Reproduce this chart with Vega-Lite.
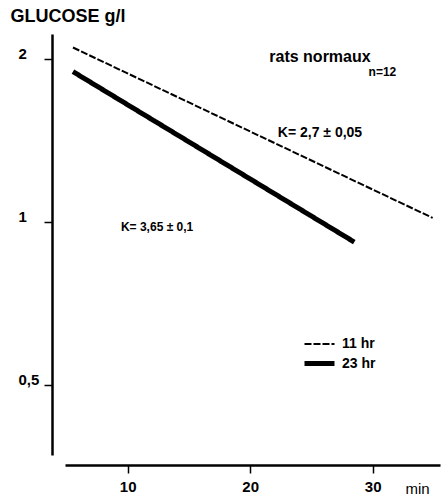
{
  "$schema": "https://vega.github.io/schema/vega-lite/v6.json",
  "width": 375,
  "height": 421,
  "autosize": "none",
  "padding": {"left": 65, "top": 34, "right": 2, "bottom": 46},
  "background": "white",
  "config": {
    "view": {"stroke": null},
    "font": "Liberation Sans",
    "legend": {
      "orient": "none",
      "legendX": 242,
      "legendY": 299,
      "padding": 0,
      "symbolType": "M-1.5,0H1.5",
      "symbolSize": 400,
      "symbolStrokeColor": "black",
      "labelFontSize": 14,
      "labelFontWeight": "bold",
      "labelColor": "black",
      "labelOffset": 10,
      "rowPadding": 0,
      "title": null
    }
  },
  "encoding": {
    "x": {
      "field": "t",
      "type": "quantitative",
      "scale": {"domain": [4.88, 35.5], "nice": false, "zero": false},
      "axis": {
        "values": [10, 20, 30],
        "offset": 10,
        "grid": false,
        "domainColor": "black",
        "domainWidth": 2.5,
        "tickColor": "black",
        "tickWidth": 1.5,
        "tickSize": 8,
        "labelFontSize": 15,
        "labelFontWeight": "bold",
        "labelColor": "black",
        "labelPadding": 6,
        "title": "min",
        "titleFontSize": 15,
        "titleFontWeight": "normal",
        "titleColor": "black",
        "titleAlign": "left",
        "titleBaseline": "alphabetic",
        "titleX": 340,
        "titleY": 28
      }
    },
    "y": {
      "field": "g",
      "type": "quantitative",
      "scale": {"type": "log", "domain": [0.371, 2.22], "nice": false, "zero": false},
      "axis": {
        "values": [0.5, 1, 2],
        "format": "~g",
        "labelExpr": "replace(datum.label, '.', ',')",
        "offset": 13,
        "grid": false,
        "domainColor": "black",
        "domainWidth": 2.5,
        "tickColor": "black",
        "tickWidth": 1.5,
        "tickSize": 8,
        "labelFontSize": 15,
        "labelFontWeight": "bold",
        "labelColor": "black",
        "labelAlign": "left",
        "labelBaseline": "alphabetic",
        "labelPadding": 26,
        "title": "GLUCOSE g/l",
        "titleFontSize": 18,
        "titleFontWeight": "bold",
        "titleColor": "black",
        "titleAngle": 0,
        "titleAlign": "left",
        "titleBaseline": "top",
        "titleX": -42,
        "titleY": -27
      }
    }
  },
  "layer": [
    {
      "data": {
        "values": [
          {"series": "11 hr", "t": 5.53, "g": 2.096},
          {"series": "11 hr", "t": 34.9, "g": 1.016},
          {"series": "23 hr", "t": 5.53, "g": 1.892},
          {"series": "23 hr", "t": 28.5, "g": 0.917}
        ]
      },
      "mark": {"type": "line", "color": "black", "strokeCap": "butt"},
      "encoding": {
        "detail": {"field": "series"},
        "strokeDash": {
          "field": "series",
          "type": "nominal",
          "scale": {"domain": ["11 hr", "23 hr"], "range": [[7, 2], [1, 0]]},
          "legend": {"title": null}
        },
        "strokeWidth": {
          "field": "series",
          "type": "nominal",
          "scale": {"domain": ["11 hr", "23 hr"], "range": [2, 5]},
          "legend": {"title": null}
        }
      }
    },
    {
      "data": {"values": [{"t": 25.7, "g": 2.01, "label": "rats normaux"}]},
      "mark": {"type": "text", "fontSize": 16, "fontWeight": "bold", "color": "black", "align": "center", "baseline": "middle"},
      "encoding": {"text": {"field": "label"}}
    },
    {
      "data": {"values": [{"t": 30.8, "g": 1.89, "label": "n=12"}]},
      "mark": {"type": "text", "fontSize": 12, "fontWeight": "bold", "color": "black", "align": "center", "baseline": "middle"},
      "encoding": {"text": {"field": "label"}}
    },
    {
      "data": {"values": [{"t": 25.7, "g": 1.458, "label": "K= 2,7 ± 0,05"}]},
      "mark": {"type": "text", "fontSize": 14, "fontWeight": "bold", "color": "black", "align": "center", "baseline": "middle"},
      "encoding": {"text": {"field": "label"}}
    },
    {
      "data": {"values": [{"t": 12.4, "g": 0.978, "label": "K= 3,65 ± 0,1"}]},
      "mark": {"type": "text", "fontSize": 12, "fontWeight": "bold", "color": "black", "align": "center", "baseline": "middle"},
      "encoding": {"text": {"field": "label"}}
    }
  ]
}
